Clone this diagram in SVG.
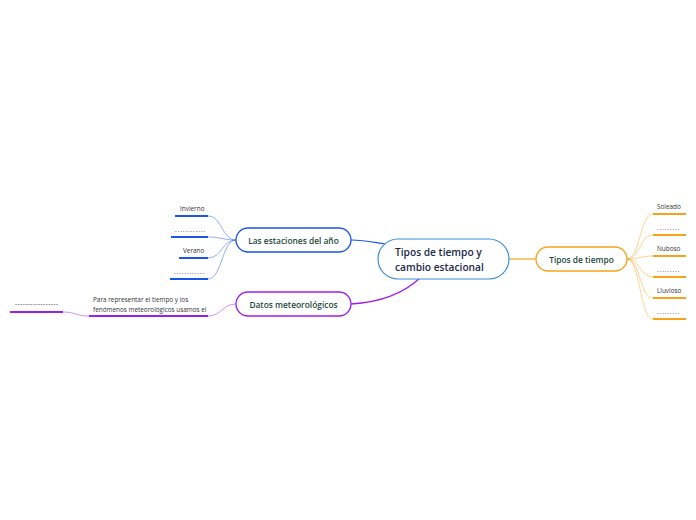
<svg xmlns="http://www.w3.org/2000/svg" width="696" height="520" viewBox="0 0 696 520">
<style>
text{font-family:"Open Sans","Noto Sans","Liberation Sans",sans-serif}
.c{font-size:10.2px;font-weight:600;fill:#1b2a4e}
.n{font-size:8.4px;font-weight:600;fill:#1f4a3c;text-anchor:middle}
.s{font-size:6.4px;fill:#333}
.d{letter-spacing:0.9px}
.bl{stroke:#1a56e8}
.pu{stroke:#9d1ee8}
.or{stroke:#f7a21b}
.u{stroke-width:2;fill:none}
.t{stroke-width:0.8;fill:none}
</style>
<rect width="696" height="520" fill="#fff"/>
<g id="connectors">
<path d="M351 240 C365 240 372 242 385 244" class="bl" stroke-width="1.2" fill="none"/>
<path d="M351 304 C385 302 405 292 420 278" class="pu" stroke-width="1.3" fill="none"/>
<path d="M509 259 L536 259" class="or" stroke-width="1.2" fill="none"/>
<g class="bl t" stroke-opacity="0.6">
<path d="M236 240 C222 240 222 216 208 216"/>
<path d="M236 240 C222 240 222 237 208 237"/>
<path d="M236 240 C222 240 222 258 208 258"/>
<path d="M236 240 C222 240 222 279 208 279"/>
</g>
<g class="or t" stroke-opacity="0.6">
<path d="M627 259 C640 259 640 214 653 214"/>
<path d="M627 259 C640 259 640 235 653 235"/>
<path d="M627 259 C640 259 640 256 653 256"/>
<path d="M627 259 C640 259 640 277 653 277"/>
<path d="M627 259 C640 259 640 298 653 298"/>
<path d="M627 259 C640 259 640 319 653 319"/>
</g>
<g class="pu t" stroke-opacity="0.6">
<path d="M236 304 C222 304 222 316 208 316"/>
<path d="M89 316 C76 316 76 312 63 312"/>
</g>
</g>
<g id="central">
<rect x="378" y="239" width="131" height="40" rx="20" fill="#fff" stroke="#3a8fd6" stroke-width="1.2"/>
<text x="395" y="256" class="c">Tipos de tiempo y</text>
<text x="395" y="271" class="c">cambio estacional</text>
</g>
<g id="estaciones">
<rect x="236" y="228" width="115" height="24" rx="12" fill="#fff" class="bl" stroke-width="1.3"/>
<text x="293.5" y="243.5" class="n">Las estaciones del año</text>
</g>
<g id="datos">
<rect x="236" y="292" width="115" height="24" rx="12" fill="#fff" class="pu" stroke-width="1.3"/>
<text x="293.5" y="307.5" class="n">Datos meteorológicos</text>
</g>
<g id="tipos">
<rect x="536" y="247" width="91" height="24" rx="12" fill="#fff" class="or" stroke-width="1.3"/>
<text x="581.5" y="262.5" class="n">Tipos de tiempo</text>
</g>
<g id="invierno"><text x="180" y="211" class="s">Invierno</text><path d="M175 216 H208" class="bl u"/></g>
<g id="est2"><text x="175" y="232" class="s d">............</text><path d="M171 237 H208" class="bl u"/></g>
<g id="verano"><text x="183" y="253" class="s">Verano</text><path d="M179 258 H208" class="bl u"/></g>
<g id="est4"><text x="174" y="274" class="s d">............</text><path d="M170 279 H208" class="bl u"/></g>
<g id="soleado"><text x="657" y="209" class="s">Soleado</text><path d="M653 214 H686" class="or u"/></g>
<g id="tip2"><text x="657" y="230" class="s d">.........</text><path d="M653 235 H686" class="or u"/></g>
<g id="nuboso"><text x="657" y="251" class="s">Nuboso</text><path d="M653 256 H686" class="or u"/></g>
<g id="tip4"><text x="657" y="272" class="s d">.........</text><path d="M653 277 H686" class="or u"/></g>
<g id="lluvioso"><text x="657" y="293" class="s">Lluvioso</text><path d="M653 298 H686" class="or u"/></g>
<g id="tip6"><text x="657" y="314" class="s d">.........</text><path d="M653 319 H686" class="or u"/></g>
<g id="para"><text x="93" y="302" class="s">Para representar el tiempo y los</text><text x="93" y="312" class="s">fenómenos meteorológicos usamos el</text><path d="M89 316 H208" class="pu u"/></g>
<g id="dash"><text x="15" y="306" class="s" style="letter-spacing:0.5px">-----------------</text><path d="M10 312 H63" class="pu u"/></g>
</svg>
